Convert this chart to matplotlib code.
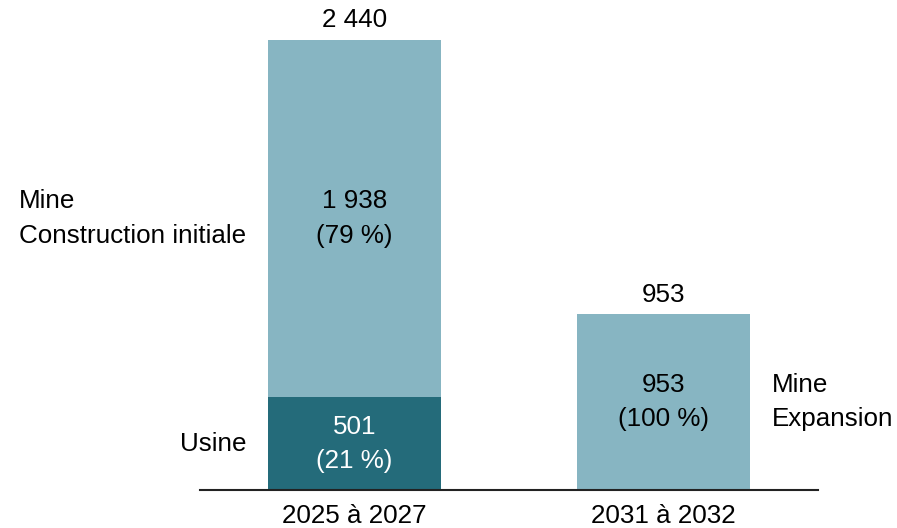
import matplotlib
matplotlib.use('Agg')
import matplotlib.pyplot as plt

periodes = ['2025 à 2027', '2031 à 2032']
usine = [501, 0]
mine = [1938, 953]
totaux = ['2 440', '953']
lbl_usine = ['501\n(21 %)', '']
lbl_mine = ['1 938\n(79 %)', '953\n(100 %)']

clair = '#87b5c2'
fonce = '#246b7a'

plt.rcParams['font.family'] = ['Liberation Sans', 'DejaVu Sans']
fs = 18.7
ls = 1.55

fig = plt.figure(figsize=(8.97, 5.28), dpi=100)
ax = fig.add_axes([200/897, 38/528, 618/897, 490/528])
x = [0, 1]
w = 0.557
ax.bar(x, usine, w, color=fonce)
ax.bar(x, mine, w, bottom=usine, color=clair)
ax.set_xlim(-0.5, 1.5)
ax.set_ylim(0, 490/0.1847)

for i in x:
    tot = usine[i] + mine[i]
    ax.text(i, tot + 40, totaux[i], ha='center', va='bottom', fontsize=fs)
    ax.text(i, usine[i] + mine[i]/2, lbl_mine[i], ha='center', va='center',
            fontsize=fs, linespacing=ls)
    if usine[i]:
        ax.text(i, usine[i]/2, lbl_usine[i], ha='center', va='center',
                fontsize=fs, color='white', linespacing=ls)

ax.text(-0.35, usine[0] + mine[0]/2, 'Mine\nConstruction initiale', ha='right',
        va='center', multialignment='left', fontsize=fs, linespacing=ls)
ax.text(-0.35, usine[0]/2, 'Usine', ha='right', va='center', fontsize=fs)
ax.text(1.35, mine[1]/2, 'Mine\nExpansion', ha='left', va='center',
        fontsize=fs, linespacing=ls)

for s in ['top', 'right', 'left']:
    ax.spines[s].set_visible(False)
ax.spines['bottom'].set_linewidth(1.5)
ax.spines['bottom'].set_color('#222222')
ax.set_yticks([])
ax.set_xticks(x)
ax.set_xticklabels(periodes, fontsize=fs)
ax.tick_params(axis='x', length=0, pad=10)

fig.savefig('out.png', dpi=100)
